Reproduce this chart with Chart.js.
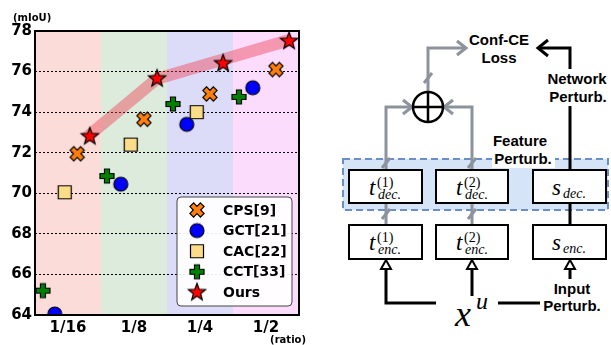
<!DOCTYPE html>
<html lang="en">
<head>
<meta charset="UTF-8">
<title>mIoU vs ratio</title>
<script src="https://cdn.jsdelivr.net/npm/chart.js"></script>
<style>
    * { margin: 0; padding: 0; box-sizing: border-box; }
    body { background: #fff; width: 611px; height: 345px; overflow: hidden; }
    .wrap { position: relative; width: 611px; height: 345px; }
    #chart { position: absolute; left: 0; top: 0; }
    #diagram { position: absolute; left: 310px; top: 0; }
    .lbl { font-family: 'Liberation Sans', Arial, sans-serif; font-weight: bold; font-size: 15px; fill: #000; }
    .it { font-family: 'Liberation Serif', 'DejaVu Serif', serif; font-style: italic; }
    .rm { font-family: 'Liberation Serif', 'DejaVu Serif', serif; }
</style>
</head>
<body>
<div class="wrap">
    <canvas id="chart" width="310" height="345"></canvas>
    <svg id="diagram" width="301" height="345" viewBox="310 0 301 345">
        <!-- feature perturbation area -->
        <rect x="343" y="159" width="265" height="51" fill="#d6e4f8" stroke="#6a8fc8" stroke-width="2" stroke-dasharray="7 4"/>

        <!-- gray teacher paths -->
        <g stroke="#8c939c" stroke-width="3" fill="none">
            <path d="M386 170 V107 H412"/>
            <path d="M403 100 L412 107 L403 114"/>
            <path d="M472 170 V107 H444"/>
            <path d="M453 100 L444 107 L453 114"/>
            <path d="M428 92 V48 H466"/>
            <path d="M457 41 L466 48 L457 55"/>
            <path d="M386 203 V225"/>
            <path d="M472 203 V225"/>
            <path d="M382 168 L390 158"/>
            <path d="M468 168 L476 158"/>
            <path d="M424 83 L432 73"/>
            <path d="M382 219 L390 209"/>
            <path d="M468 219 L476 209"/>
        </g>

        <!-- student path -->
        <g stroke="#000" stroke-width="3" fill="none">
            <path d="M570 170 V48 H538"/>
            <path d="M548 40 L538 48 L548 56"/>
            <path d="M570 203 V225"/>
        </g>

        <!-- sum node -->
        <circle cx="428" cy="107" r="15" fill="#fff" stroke="#000" stroke-width="2.5"/>
        <path d="M413 107 H443 M428 92 V122" stroke="#000" stroke-width="2.5"/>

        <!-- labels -->
        <text class="lbl" x="499" y="45" text-anchor="middle">Conf-CE</text>
        <text class="lbl" x="499" y="63" text-anchor="middle">Loss</text>
        <rect x="543" y="69" width="66" height="37" fill="#fff"/>
        <text class="lbl" x="577" y="84" text-anchor="middle">Network</text>
        <text class="lbl" x="578" y="102" text-anchor="middle">Perturb.</text>
        <text class="lbl" x="520" y="146" text-anchor="middle">Feature</text>
        <rect x="492" y="152" width="63" height="16" fill="#fff"/>
        <text class="lbl" x="523" y="164" text-anchor="middle">Perturb.</text>

        <!-- boxes -->
        <g fill="#fff" stroke="#000" stroke-width="2">
            <rect x="349" y="170" width="73" height="33"/>
            <rect x="436" y="170" width="72" height="33"/>
            <rect x="533" y="170" width="73" height="33"/>
            <rect x="349" y="225" width="73" height="34"/>
            <rect x="436" y="225" width="72" height="34"/>
            <rect x="533" y="225" width="73" height="34"/>
        </g>
        <text class="it" font-size="23" x="369" y="195">t</text>
        <text class="rm" font-size="14" x="377" y="187">(1)</text>
        <text class="it" font-size="14" x="378" y="199">dec.</text>
        <text class="it" font-size="23" x="456" y="195">t</text>
        <text class="rm" font-size="14" x="464" y="187">(2)</text>
        <text class="it" font-size="14" x="465" y="199">dec.</text>
        <text class="it" font-size="23" x="552" y="195">s</text>
        <text class="it" font-size="14" x="563" y="198">dec.</text>
        <text class="it" font-size="23" x="369" y="250">t</text>
        <text class="rm" font-size="14" x="377" y="242">(1)</text>
        <text class="it" font-size="14" x="378" y="254">enc.</text>
        <text class="it" font-size="23" x="456" y="250">t</text>
        <text class="rm" font-size="14" x="464" y="242">(2)</text>
        <text class="it" font-size="14" x="465" y="254">enc.</text>
        <text class="it" font-size="23" x="552" y="250">s</text>
        <text class="it" font-size="14" x="563" y="253">enc.</text>

        <!-- input -->
        <g stroke="#000" stroke-width="3" fill="none">
            <path d="M436 303 H386 V269"/>
            <path d="M472 296 V269"/>
            <path d="M498 303 H543"/>
            <path d="M570 279 V269"/>
        </g>
        <g fill="#fff" stroke="#000" stroke-width="2">
            <polygon points="386,260 381,269 391,269"/>
            <polygon points="472,260 467,269 477,269"/>
            <polygon points="570,260 565,269 575,269"/>
        </g>
        <text class="it" font-size="36" x="455" y="326">x</text>
        <text class="it" font-size="24" x="476" y="309">u</text>
        <rect x="540" y="280" width="66" height="34" fill="#fff"/>
        <text class="lbl" x="572" y="294" text-anchor="middle">Input</text>
        <text class="lbl" x="572" y="311" text-anchor="middle">Perturb.</text>
    </svg>
</div>
<script>
    // data
    const xLabels = ['1/16', '1/8', '1/4', '1/2'];
    const yTicks = [64, 66, 68, 70, 72, 74, 76, 78];
    const bandColors = ['#fcdcd8', '#dcebdc', '#dcdcf8', '#fcdcfc'];

    const cpsX = [0.64, 1.65, 2.65, 3.65];
    const cpsY = [71.95, 73.65, 74.9, 76.1];
    const gctX = [0.30, 1.30, 2.30, 3.30];
    const gctY = [64.05, 70.45, 73.4, 75.2];
    const cacX = [0.45, 1.45, 2.45];
    const cacY = [70.05, 72.4, 74.0];
    const cctX = [0.12, 1.09, 2.09, 3.09];
    const cctY = [65.2, 70.85, 74.4, 74.75];
    const oursX = [0.83, 1.85, 2.85, 3.85];
    const oursY = [72.8, 75.65, 76.4, 77.5];
    const trendX = [0.78, 1.85, 2.85, 3.85];
    const trendY = [72.75, 75.65, 76.6, 77.55];

    function pts(xs, ys) { return xs.map((x, i) => ({ x: x, y: ys[i] })); }

    // marker images
    function marker(draw) {
        const c = document.createElement('canvas');
        c.width = 24; c.height = 24;
        const g = c.getContext('2d');
        g.translate(12, 12);
        g.lineWidth = 1.2;
        g.strokeStyle = '#000';
        g.lineJoin = 'miter';
        draw(g);
        return c;
    }
    function crossPath(g, w, L, rot) {
        const p = [[-w,-L],[w,-L],[w,-w],[L,-w],[L,w],[w,w],[w,L],[-w,L],[-w,w],[-L,w],[-L,-w],[-w,-w]];
        g.beginPath();
        p.forEach((q, i) => {
            const x = q[0] * Math.cos(rot) - q[1] * Math.sin(rot);
            const y = q[0] * Math.sin(rot) + q[1] * Math.cos(rot);
            if (i === 0) g.moveTo(x, y); else g.lineTo(x, y);
        });
        g.closePath();
    }
    const mkX = marker(g => { crossPath(g, 2.6, 7.4, Math.PI / 4); g.fillStyle = '#ff7f0e'; g.fill(); g.stroke(); });
    const mkCircle = marker(g => { g.beginPath(); g.arc(0, 0, 7, 0, Math.PI * 2); g.fillStyle = '#0000ff'; g.fill(); g.stroke(); });
    const mkSquare = marker(g => { g.beginPath(); g.rect(-6.5, -6.5, 13, 13); g.fillStyle = '#fbdc88'; g.fill(); g.stroke(); });
    const mkPlus = marker(g => { crossPath(g, 2.5, 7, 0); g.fillStyle = '#008000'; g.fill(); g.stroke(); });
    const mkStar = marker(g => {
        g.beginPath();
        for (let i = 0; i < 10; i++) {
            const r = i % 2 === 0 ? 9 : 3.8;
            const a = -Math.PI / 2 + i * Math.PI / 5;
            if (i === 0) g.moveTo(r * Math.cos(a), r * Math.sin(a)); else g.lineTo(r * Math.cos(a), r * Math.sin(a));
        }
        g.closePath();
        g.fillStyle = '#ff0000'; g.fill(); g.stroke();
    });

    const bandsPlugin = {
        id: 'bands',
        beforeDraw(chart) {
            const { ctx, chartArea, scales } = chart;
            ctx.save();
            xLabels.forEach((l, i) => {
                const x0 = scales.x.getPixelForValue(i);
                const x1 = scales.x.getPixelForValue(i + 1);
                ctx.fillStyle = bandColors[i];
                ctx.fillRect(x0, chartArea.top, x1 - x0, chartArea.bottom - chartArea.top);
            });
            ctx.restore();
        },
        afterDraw(chart) {
            const { ctx, chartArea } = chart;
            ctx.save();
            ctx.strokeStyle = '#000';
            ctx.lineWidth = 2;
            ctx.strokeRect(chartArea.left, chartArea.top, chartArea.right - chartArea.left, chartArea.bottom - chartArea.top);

            // axis unit labels
            ctx.fillStyle = '#000';
            ctx.font = 'bold 10px "DejaVu Sans"';
            ctx.textBaseline = 'alphabetic';
            ctx.textAlign = 'left';
            ctx.fillText('(mIoU)', 13, 21);
            ctx.textAlign = 'right';
            ctx.fillText('(ratio)', 306, 343);

            // legend inside the plot
            const items = chart.data.datasets.filter(d => d.label);
            const bx = 177, by = 197, bw = 115, bh = 109;
            ctx.beginPath();
            ctx.roundRect(bx, by, bw, bh, 4);
            ctx.fillStyle = 'rgba(255,255,255,0.92)';
            ctx.fill();
            ctx.strokeStyle = '#444';
            ctx.lineWidth = 1;
            ctx.stroke();
            ctx.font = 'bold 14px "DejaVu Sans"';
            ctx.textAlign = 'left';
            ctx.textBaseline = 'middle';
            ctx.fillStyle = '#000';
            items.forEach((d, i) => {
                const y = 210 + i * 20.6;
                ctx.drawImage(d.pointStyle, 197 - 12, y - 12);
                ctx.fillText(d.label, 223, y + 1);
            });
            ctx.restore();
        }
    };

    const tickFont = { family: 'DejaVu Sans', weight: 'bold', size: 15 };

    new Chart(document.getElementById('chart'), {
        type: 'scatter',
        data: {
            datasets: [
                { label: 'CPS[9]', data: pts(cpsX, cpsY), pointStyle: mkX, order: 5, clip: 0 },
                { label: 'GCT[21]', data: pts(gctX, gctY), pointStyle: mkCircle, order: 4, clip: 0 },
                { label: 'CAC[22]', data: pts(cacX, cacY), pointStyle: mkSquare, order: 3, clip: 0 },
                { label: 'CCT[33]', data: pts(cctX, cctY), pointStyle: mkPlus, order: 2, clip: 0 },
                { label: 'Ours', data: pts(oursX, oursY), pointStyle: mkStar, order: 1, clip: 0 },
                {
                    data: pts(trendX, trendY), showLine: true, pointRadius: 0,
                    borderColor: 'rgba(238,55,75,0.42)', borderWidth: 12,
                    borderCapStyle: 'butt', borderJoinStyle: 'round', order: 10, clip: 0
                }
            ]
        },
        options: {
            responsive: false,
            animation: false,
            layout: { padding: { top: 31, right: 11, left: 0, bottom: 0 } },
            plugins: { legend: { display: false }, tooltip: { enabled: false } },
            scales: {
                x: {
                    type: 'linear', min: 0, max: 4,
                    afterBuildTicks: s => { s.ticks = xLabels.map((l, i) => ({ value: i + 0.5 })); },
                    ticks: { callback: v => xLabels[Math.floor(v)], font: tickFont, color: '#000', padding: 4, autoSkip: false, maxRotation: 0 },
                    grid: { display: false, drawTicks: false },
                    border: { display: false },
                    afterFit: s => { s.height = 30; }
                },
                y: {
                    min: 64, max: 78,
                    afterBuildTicks: s => { s.ticks = yTicks.map(v => ({ value: v })); },
                    ticks: { font: tickFont, color: '#000', padding: 3 },
                    grid: { color: '#000', lineWidth: 1, drawTicks: false },
                    border: { display: false, dash: [2, 2] },
                    afterFit: s => { s.width = 35; }
                }
            }
        },
        plugins: [bandsPlugin]
    });
</script>
</body>
</html>
